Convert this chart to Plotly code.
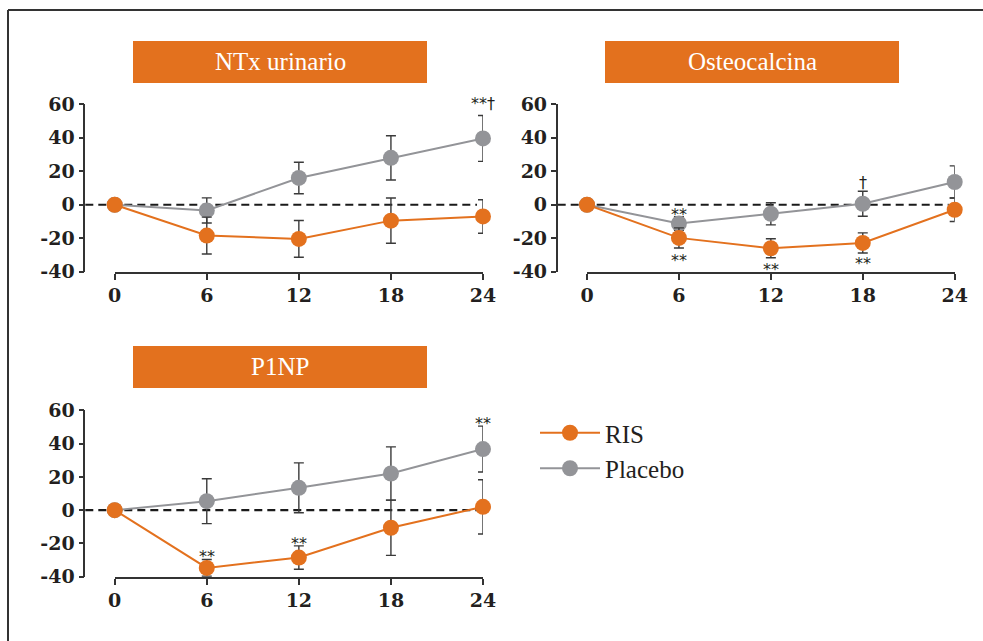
import plotly.graph_objects as go

# ---------------- data ----------------
months = [0, 6, 12, 18, 24]
panel_titles = ["NTx urinario", "Osteocalcina", "P1NP"]
series_names = ["RIS", "Placebo"]

ntx_ris = [0, -18.4, -20.4, -9.5, -7.0]
ntx_ris_err = [0, 11.0, 11.0, 13.5, 10.0]
ntx_pla = [0, -3.4, 16.0, 28.0, 39.6]
ntx_pla_err = [0, 7.5, 9.4, 13.2, 13.7]

osteo_ris = [0, -19.8, -26.0, -22.8, -3.0]
osteo_ris_err = [0, 6.0, 5.7, 6.0, 7.0]
osteo_pla = [0, -11.2, -5.4, 0.6, 13.6]
osteo_pla_err = [0, 4.0, 6.6, 7.5, 9.6]

p1np_ris = [0, -34.7, -28.5, -10.6, 2.0]
p1np_ris_err = [0, 5.0, 7.0, 16.6, 16.3]
p1np_pla = [0, 5.4, 13.4, 22.0, 36.7]
p1np_pla_err = [0, 13.5, 15.0, 16.0, 13.8]

ytick_vals = [-40, -20, 0, 20, 40, 60]
ytick_text = ["-40", "-20", "0", "20", "40", "60"]
xtick_text = ["0", "6", "12", "18", "24"]

# significance marks: (text, x, y)
ntx_marks = [("**†", 24, 62.6)]
osteo_marks = [("**", 6, -3.4), ("**", 6, -31.0), ("**", 12, -36.0),
               ("**", 18, -32.8), ("†", 18, 13.2)]
p1np_marks = [("**", 6, -25.3), ("**", 12, -17.7), ("**", 24, 54.6)]

# ---------------- style ----------------
ORANGE = "#E3711E"
GRAY = "#939498"
ERR = "#3a3a3a"
TXT = "#231f20"
W, H = 983, 641
YMIN, YMAX = -40, 60

def px(xp):
    return xp / W

def py(yp):
    return 1 - yp / H

panels = [
    dict(ris=ntx_ris, ris_err=ntx_ris_err, pla=ntx_pla, pla_err=ntx_pla_err,
         marks=ntx_marks, xdom=(114.7, 483.0), ydom=(104.3, 271.7), yaxpos=84.3,
         box=(133, 41, 427, 83)),
    dict(ris=osteo_ris, ris_err=osteo_ris_err, pla=osteo_pla, pla_err=osteo_pla_err,
         marks=osteo_marks, xdom=(587.0, 954.7), ydom=(104.3, 271.7), yaxpos=556.7,
         box=(605, 41, 899, 83)),
    dict(ris=p1np_ris, ris_err=p1np_ris_err, pla=p1np_pla, pla_err=p1np_pla_err,
         marks=p1np_marks, xdom=(114.7, 483.0), ydom=(410.3, 576.7), yaxpos=84.3,
         box=(133, 346, 427, 388)),
]

fig = go.Figure()
shapes = []
annotations = []

for i, p in enumerate(panels):
    n = "" if i == 0 else str(i + 1)
    xa, ya = "x" + n, "y" + n
    for name, vals, errs, color, rank in [
        ("Placebo", p["pla"], p["pla_err"], GRAY, 2),
        ("RIS", p["ris"], p["ris_err"], ORANGE, 1),
    ]:
        fig.add_trace(go.Scatter(
            x=months, y=vals, name=name, mode="lines+markers",
            xaxis=xa, yaxis=ya, cliponaxis=False,
            line=dict(color=color, width=2),
            marker=dict(color=color, size=16),
            error_y=dict(type="data", array=errs, visible=True,
                         color=ERR, thickness=1.4, width=5),
            showlegend=(i == 0), legendrank=rank,
        ))
    axis_common = dict(showgrid=False, zeroline=False, showline=True,
                       linecolor="#333333", linewidth=1.6, ticks="outside",
                       tickcolor="#333333", tickwidth=1.6, automargin=False,
                       tickfont=dict(family="DejaVu Serif", size=19, color=TXT,
                                     weight="bold"))
    fig.update_layout({
        ("xaxis" + n): dict(axis_common, domain=[px(p["xdom"][0]), px(p["xdom"][1])],
                             range=[0, 24], tickvals=months, ticktext=xtick_text,
                             ticklen=6, anchor=ya),
        ("yaxis" + n): dict(axis_common, domain=[py(p["ydom"][1]), py(p["ydom"][0])],
                             range=[YMIN, YMAX], tickvals=ytick_vals, ticktext=ytick_text,
                             ticklen=5, anchor="free", position=px(p["yaxpos"])),
    })
    ppu = (p["ydom"][1] - p["ydom"][0]) / (YMAX - YMIN)  # pixels per unit
    # dashed zero reference line
    shapes.append(dict(type="line", xref="paper", yref=ya,
                       x0=px(p["yaxpos"] + 1), x1=px(p["xdom"][1] - 6), y0=0, y1=0,
                       line=dict(color="#1a1a1a", width=2.2, dash="8px,5px"),
                       layer="below"))
    # title box
    bx0, by0, bx1, by1 = p["box"]
    shapes.append(dict(type="rect", xref="paper", yref="paper",
                       x0=px(bx0), x1=px(bx1), y0=py(by1), y1=py(by0),
                       fillcolor=ORANGE, line=dict(width=0)))
    annotations.append(dict(text=panel_titles[i], xref="paper", yref="paper",
                            x=px((bx0 + bx1) / 2), y=py((by0 + by1) / 2 - 1),
                            showarrow=False, xanchor="center", yanchor="middle",
                            font=dict(family="Liberation Serif", size=25, color="white")))
    for t, mx, my in p["marks"]:
        ya_val = min(my, YMAX)
        shift = (my - ya_val) * ppu + (-4 if "*" in t else 0)
        annotations.append(dict(text=t, x=mx, y=ya_val, xref=xa, yref=ya,
                                showarrow=False, xanchor="center", yanchor="middle",
                                yshift=shift,
                                font=dict(family="DejaVu Sans", size=16, color=TXT)))

# frame
shapes.append(dict(type="line", xref="paper", yref="paper", x0=px(8), x1=1,
                   y0=py(10), y1=py(10), line=dict(color="#333333", width=2)))
shapes.append(dict(type="line", xref="paper", yref="paper", x0=px(8), x1=px(8),
                   y0=py(10), y1=0, line=dict(color="#333333", width=2)))

fig.update_layout(
    width=W, height=H,
    margin=dict(l=0, r=0, t=0, b=0, pad=0, autoexpand=False),
    paper_bgcolor="white", plot_bgcolor="white",
    shapes=shapes, annotations=annotations,
    showlegend=True,
    legend=dict(x=px(535), y=py(410), xanchor="left", yanchor="top",
                font=dict(family="Liberation Serif", size=25, color=TXT),
                bgcolor="rgba(0,0,0,0)", itemwidth=60, tracegroupgap=0),
)

fig.write_html("out.html",
               config={"displayModeBar": False},
               post_script="document.body.style.margin='0';"
                           "document.body.style.overflow='hidden';")
